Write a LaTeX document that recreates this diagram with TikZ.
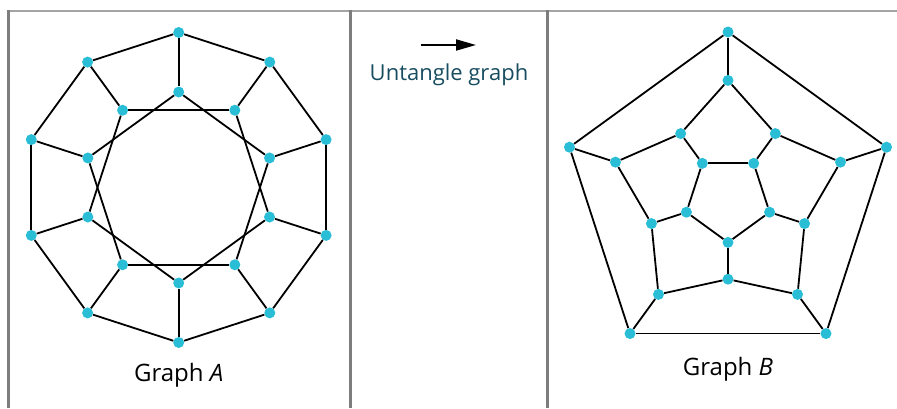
\documentclass[tikz,border=0pt]{standalone}
\usepackage{fontspec}
\setmainfont{Open Sans}
\definecolor{dotcyan}{RGB}{41,189,214}
\definecolor{labelteal}{RGB}{24,77,96}
\definecolor{framegray}{RGB}{125,125,125}
\usetikzlibrary{arrows.meta}

\begin{document}
\begin{tikzpicture}[x=1pt, y=1pt,
    vertex/.style={circle, fill=dotcyan, inner sep=0pt, minimum size=11pt},
    edge/.style={line width=1.8pt, black},
    frame/.style={line width=3pt, framegray},
    caption/.style={font=\fontsize{24}{28}\selectfont}]
  \useasboundingbox (0,0) rectangle (897,408);

  % Table frame
  \draw[line width=2pt, framegray!70] (7,397) -- (897,397);
  \draw[frame] (8.5,398) -- (8.5,0);
  \draw[frame] (350,398) -- (350,0);
  \draw[frame] (547,398) -- (547,0);

  % Graph A
  \begin{scope}[shift={(178.7,220.5)}]
    \foreach \i in {0,...,9} {
      \node[vertex] (ao\i) at (90-36*\i:155) {};
      \node[vertex] (ai\i) at (90-36*\i:95.5) {};
    }
    \foreach \i in {0,...,9} {
      \pgfmathtruncatemacro{\j}{mod(\i+1,10)}
      \pgfmathtruncatemacro{\k}{mod(\i+2,10)}
      \draw[edge] (ao\i) -- (ao\j);
      \draw[edge] (ao\i) -- (ai\i);
      \draw[edge] (ai\i) -- (ai\k);
    }
  \end{scope}
  \node[caption] (labela) at (178.7,33) {Graph \textit{A}};

  % Untangle arrow
  \coordinate (arrowtail) at (421,363);
  \coordinate (arrowtip) at (476,363);
  \draw[line width=2pt, -{Triangle[length=20pt, width=11pt]}] (arrowtail) -- (arrowtip);
  \node[caption, font=\fontsize{22}{26}\selectfont, text=labelteal] (untangle) at (449,333) {Untangle graph};

  % Graph B
  \begin{scope}[shift={(728,209.3)}]
    \foreach \i in {0,...,4} {
      \node[vertex] (bo\i) at (90-72*\i:166.7) {};
      \node[vertex] (bi\i) at (54-72*\i:43.7) {};
    }
    \foreach \i in {0,...,9} {
      \pgfmathsetmacro{\r}{ifthenelse(mod(\i,2)==0,118.3,80.5)}
      \node[vertex] (bm\i) at (90-36*\i:\r) {};
    }
    \foreach \i in {0,...,4} {
      \pgfmathtruncatemacro{\j}{mod(\i+1,5)}
      \pgfmathtruncatemacro{\m}{2*\i}
      \pgfmathtruncatemacro{\n}{2*\i+1}
      \draw[edge] (bo\i) -- (bo\j);
      \draw[edge] (bo\i) -- (bm\m);
      \draw[edge] (bm\n) -- (bi\i);
      \draw[edge] (bi\i) -- (bi\j);
    }
    \foreach \i in {0,...,9} {
      \pgfmathtruncatemacro{\j}{mod(\i+1,10)}
      \draw[edge] (bm\i) -- (bm\j);
    }
  \end{scope}
  \node[caption] (labelb) at (728,39) {Graph \textit{B}};
\end{tikzpicture}
\end{document}
